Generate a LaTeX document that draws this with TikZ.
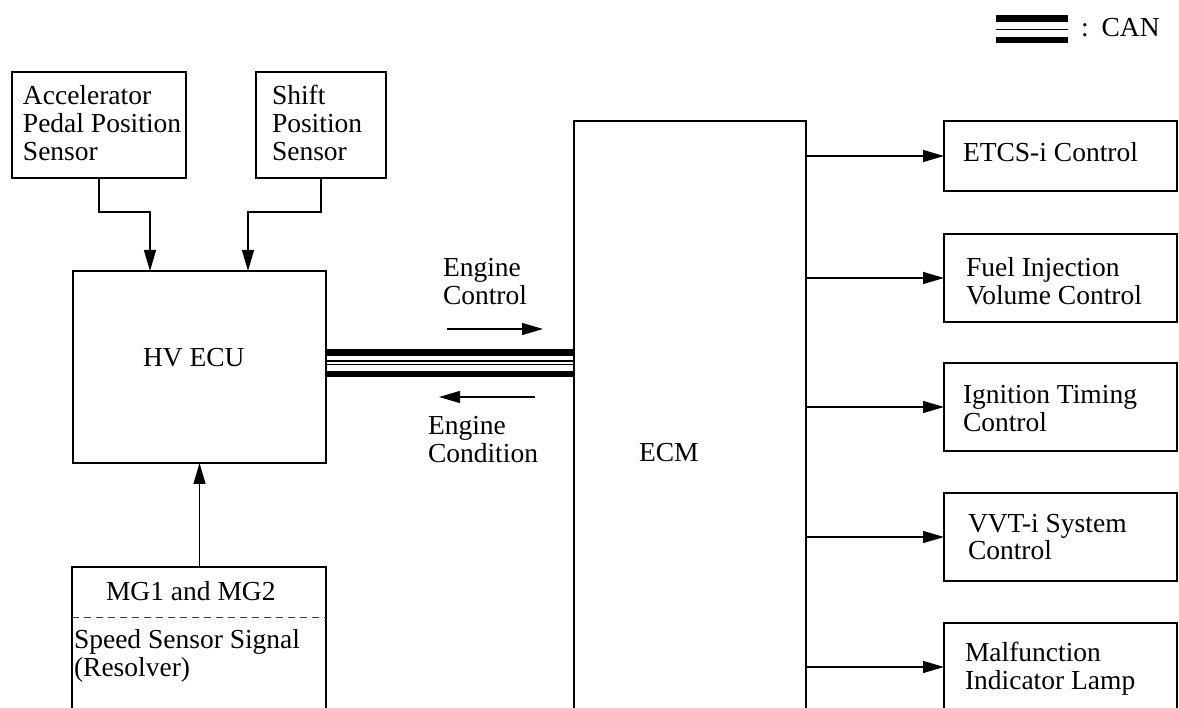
\documentclass[tikz,border=0pt]{standalone}
\usepackage{fontspec}
\setmainfont{Liberation Serif}
\usetikzlibrary{arrows.meta}
\tikzset{
  box/.style={draw, line width=1.2pt, inner sep=0pt, outer sep=0pt, rectangle},
  txt/.style={inner sep=0pt, outer sep=0pt, anchor=base west, align=left, font=\fontsize{27.5}{28}\selectfont},
  arr/.style={line width=1.2pt, -{Triangle[length=21pt,width=12pt]}},
  thickcan/.style={line width=6.6pt},
  thincan/.style={line width=1.2pt}
}
\begin{document}
\begin{tikzpicture}[x=1pt,y=-1pt]
\useasboundingbox (0,0) rectangle (1179,708);
\clip (0,0) rectangle (1179,708);
% boxes
\node[box, minimum width=174pt, minimum height=106pt] (acc) at (99,125) {};
\node[box, minimum width=130pt, minimum height=106pt] (shift) at (321,125) {};
\node[box, minimum width=253pt, minimum height=192pt] (hv) at (199.5,367) {};
\node[box, minimum width=254pt, minimum height=160pt] (mg) at (199,647) {};
\node[box, minimum width=232pt, minimum height=620pt] (ecm) at (690,431) {};
\node[box, minimum width=233pt, minimum height=70pt] (etcs) at (1060.5,156) {};
\node[box, minimum width=233pt, minimum height=88pt] (fuel) at (1060.5,278) {};
\node[box, minimum width=233pt, minimum height=88pt] (ign) at (1060.5,407) {};
\node[box, minimum width=233pt, minimum height=88pt] (vvt) at (1060.5,537) {};
\node[box, minimum width=233pt, minimum height=88pt] (mil) at (1060.5,667) {};
\draw[dash pattern=on 7pt off 5pt, line width=1pt, black!75] (mg.west |- 0,617) -- (mg.east |- 0,617);
% texts (base = baseline of last line)
\node[txt] (accT) at (23,161) {Accelerator\\Pedal Position\\Sensor};
\node[txt] (shiftT) at (272,161) {Shift\\Position\\Sensor};
\node[txt] (hvT) at (143,367) {HV ECU};
\node[txt] (ecmT) at (639,462) {ECM};
\node[txt] (mgT) at (106,600) {MG1 and MG2};
\node[txt] (spdT) at (74,676) {Speed Sensor Signal\\(Resolver)};
\node[txt] (etcsT) at (963,162) {ETCS-i Control};
\node[txt] (fuelT) at (966,305) {Fuel Injection\\Volume Control};
\node[txt] (ignT) at (963,432) {Ignition Timing\\Control};
\node[txt] (vvtT) at (968,560) {VVT-i System\\Control};
\node[txt] (milT) at (965,689) {Malfunction\\Indicator Lamp};
\node[txt] (ecT) at (443,305) {Engine\\Control};
\node[txt] (ecdT) at (428,463) {Engine\\Condition};
\node[txt] (legT) at (1081,37) {:\hspace{13pt}CAN};
% sensor arrows
\draw[arr] (acc.south) -- (acc.south |- 0,212) -- ([xshift=-49.5pt]hv.north |- 0,212) -- ([xshift=-49.5pt]hv.north);
\draw[arr] (shift.south) -- (shift.south |- 0,212) -- ([xshift=48.5pt]hv.north |- 0,212) -- ([xshift=48.5pt]hv.north);
\draw[arr] (mg.north -| hv.south) -- (hv.south);
% CAN
\draw[thickcan] (hv.east |- 0,352.6) -- (ecm.west |- 0,352.6);
\draw[thincan] (hv.east |- 0,361) -- (ecm.west |- 0,361);
\draw[thincan] (hv.east |- 0,364.5) -- (ecm.west |- 0,364.5);
\draw[thickcan] (hv.east |- 0,374) -- (ecm.west |- 0,374);
% engine control arrows
\coordinate (ec1) at (447,329);
\coordinate (ec2) at (543,329);
\coordinate (ed1) at (535,397);
\coordinate (ed2) at (439,397);
\draw[arr] (ec1) -- (ec2);
\draw[arr] (ed1) -- (ed2);
% ECM outputs
\draw[arr] (ecm.east |- etcs.west) -- (etcs.west);
\draw[arr] (ecm.east |- fuel.west) -- (fuel.west);
\draw[arr] (ecm.east |- ign.west) -- (ign.west);
\draw[arr] (ecm.east |- vvt.west) -- (vvt.west);
\draw[arr] (ecm.east |- mil.west) -- (mil.west);
% legend
\coordinate (lg1) at (996,0);
\coordinate (lg2) at (1068,0);
\draw[thickcan] (lg1 |- 0,18.6) -- (lg2 |- 0,18.6);
\draw[thincan] (lg1 |- 0,29.3) -- (lg2 |- 0,29.3);
\draw[thickcan] (lg1 |- 0,40) -- (lg2 |- 0,40);
\end{tikzpicture}
\end{document}
